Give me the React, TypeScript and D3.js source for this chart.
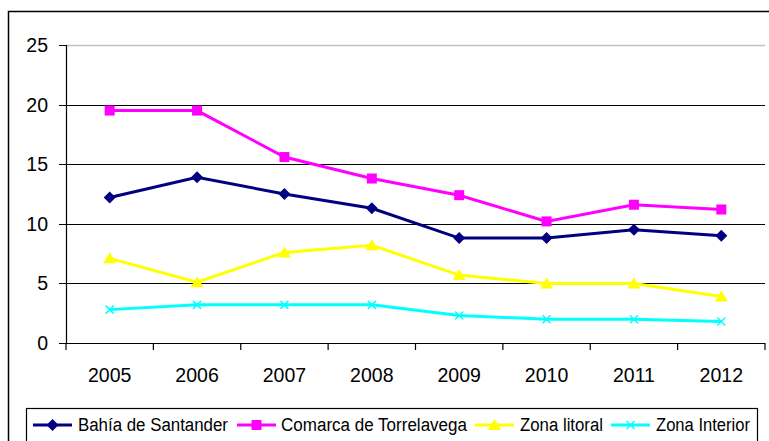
import React from 'react';
import * as d3 from 'd3';

const years = ['2005', '2006', '2007', '2008', '2009', '2010', '2011', '2012'];
const bahia = [12.2, 13.9, 12.5, 11.3, 8.8, 8.8, 9.5, 9.0];
const comarca = [19.5, 19.5, 15.6, 13.8, 12.4, 10.2, 11.6, 11.2];
const litoral = [7.1, 5.1, 7.6, 8.2, 5.7, 5.0, 5.0, 3.9];
const interior = [2.8, 3.2, 3.2, 3.2, 2.3, 2.0, 2.0, 1.8];
const yTicks = [0, 5, 10, 15, 20, 25];

const series = [
  {name: 'Bahía de Santander', values: bahia, color: '#000080', marker: 'diamond'},
  {name: 'Comarca de Torrelavega', values: comarca, color: '#FF00FF', marker: 'square'},
  {name: 'Zona litoral', values: litoral, color: '#FFFF00', marker: 'triangle'},
  {name: 'Zona Interior', values: interior, color: '#00FFFF', marker: 'x'},
];

const legendSlots = [
  {lx: 33, tx: 78, tw: 150},
  {lx: 237, tx: 281, tw: 186},
  {lx: 475, tx: 520, tw: 83},
  {lx: 611, tx: 656, tw: 94},
];

const W = 769;
const H = 441;
const FONT = '"Liberation Sans", Arial, sans-serif';

function Marker({type, x, y, color}: {type: string; x: number; y: number; color: string}) {
  if (type === 'diamond') {
    return <path d={`M${x},${y - 6}L${x + 6},${y}L${x},${y + 6}L${x - 6},${y}Z`} fill={color} />;
  }
  if (type === 'square') {
    return <rect x={x - 5} y={y - 5} width={10} height={10} fill={color} />;
  }
  if (type === 'triangle') {
    return <path d={`M${x},${y - 6}L${x + 6.5},${y + 5}L${x - 6.5},${y + 5}Z`} fill={color} />;
  }
  return (
    <path
      d={`M${x - 4},${y - 4}L${x + 4},${y + 4}M${x - 4},${y + 4}L${x + 4},${y - 4}`}
      stroke={color}
      strokeWidth={1.5}
    />
  );
}

export default function App() {
  const x = d3.scaleBand().domain(years).range([66, 765]);
  const y = d3.scaleLinear().domain([0, 25]).range([343, 45]);
  const line = d3
    .line<number>()
    .x((_, i) => x(years[i])! + x.bandwidth() / 2)
    .y(d => y(d));

  const bounds = years.map(yr => x(yr)!).concat([765]);

  return (
    <svg width={W} height={H} style={{position: 'absolute', left: 0, top: 0}} fontFamily={FONT}>
      <rect x={0} y={0} width={W} height={H} fill="#fff" />
      <rect x={8.5} y={11.5} width={800} height={500} fill="none" stroke="#000" strokeWidth={1.5} />

      {yTicks.map(t => (
        <g key={t}>
          <line
            x1={66}
            x2={765}
            y1={Math.round(y(t)) + 0.5}
            y2={Math.round(y(t)) + 0.5}
            stroke={t === 25 ? '#c0c0c0' : '#000'}
            strokeWidth={t === 25 ? 1.5 : 1.2}
          />
          <line x1={59} x2={66} y1={Math.round(y(t)) + 0.5} y2={Math.round(y(t)) + 0.5} stroke="#000" />
          <text x={48} y={y(t)} dy="0.36em" textAnchor="end" fontSize={19.5}>
            {t}
          </text>
        </g>
      ))}
      <line x1={66.5} x2={66.5} y1={45} y2={343} stroke="#000" strokeWidth={1.2} />
      {bounds.map((b, i) => (
        <line key={i} x1={b} x2={b} y1={343} y2={350} stroke="#000" strokeWidth={1.2} />
      ))}
      {years.map(yr => (
        <text key={yr} x={x(yr)! + x.bandwidth() / 2} y={382} textAnchor="middle" fontSize={19.5}>
          {yr}
        </text>
      ))}

      {series.map(s => (
        <g key={s.name}>
          <path d={line(s.values) || ''} fill="none" stroke={s.color} strokeWidth={3} />
          {s.values.map((v, i) => (
            <Marker key={i} type={s.marker} x={x(years[i])! + x.bandwidth() / 2} y={y(v)} color={s.color} />
          ))}
        </g>
      ))}

      <rect x={26.5} y={408.5} width={731} height={60} fill="#fff" stroke="#000" strokeWidth={1.2} />
      {series.map((s, i) => {
        const slot = legendSlots[i];
        return (
          <g key={s.name}>
            <line x1={slot.lx} x2={slot.lx + 39} y1={425} y2={425} stroke={s.color} strokeWidth={3} />
            <Marker type={s.marker} x={slot.lx + 19.5} y={425} color={s.color} />
            <text
              x={slot.tx}
              y={431}
              fontSize={18}
              textLength={slot.tw}
              lengthAdjust="spacingAndGlyphs"
            >
              {s.name}
            </text>
          </g>
        );
      })}
    </svg>
  );
}
